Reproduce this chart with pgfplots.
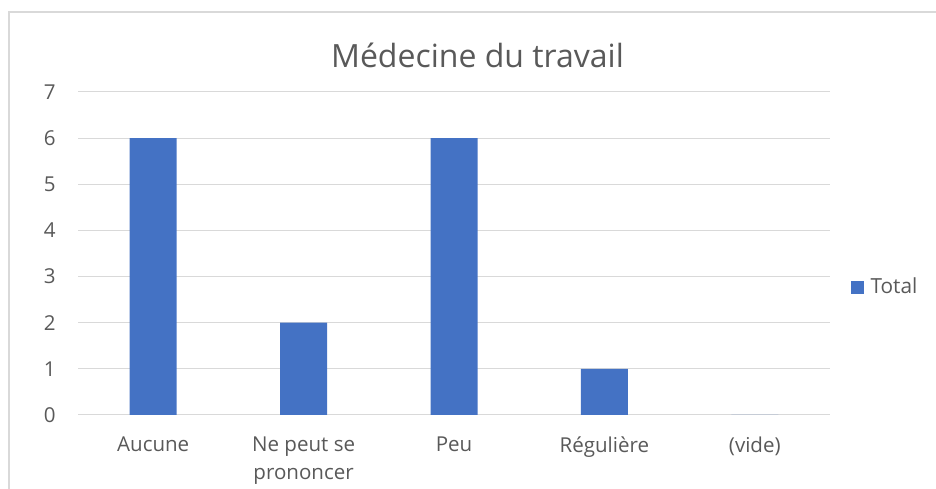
\documentclass[border=0pt]{standalone}
\usepackage{fontspec}
\setmainfont{Open Sans}
\usepackage{pgfplots}
\pgfplotsset{compat=1.18}
\definecolor{barblue}{HTML}{4472C4}
\definecolor{txt}{HTML}{595959}
\definecolor{gridc}{HTML}{D9D9D9}
\begin{document}
\begin{tikzpicture}[x=0.75pt,y=0.75pt]
\useasboundingbox (0,0) rectangle (936,489);
\draw[gridc, line width=1.5pt] (9,0) -- (9,477) -- (936,477);
\node[font=\fontsize{24}{28}\selectfont, text=txt] at (477.5,434) {Médecine du travail};
\begin{axis}[
  at={(58.5pt,55.5pt)}, anchor=south west, scale only axis,
  width=564pt, height=242.25pt,
  xmin=-0.5, xmax=4.5, ymin=0, ymax=7,
  ybar, bar width=35.25pt,
  xtick={0,...,4},
  xticklabels={Aucune, {Ne peut se\\prononcer}, Peu, Régulière, (vide)},
  ytick={0,...,7},
  ymajorgrids, grid style={gridc, line width=0.75pt},
  axis line style={draw=none},
  major tick style={draw=none},
  /pgf/number format/assume math mode=true,
  tick label style={font=\fontsize{15.4}{21}\selectfont, text=txt},
  xticklabel style={inner sep=0pt, anchor=north, yshift=-12pt, align=center},
  yticklabel style={inner sep=0pt, anchor=east, xshift=-16.5pt},
  legend style={at={(1.027,0.396)}, anchor=west, draw=none, fill=none, inner sep=0pt,
    font=\fontsize{15.6}{21}\selectfont, text=txt, legend cell align=left},
  legend image code/.code={\fill[barblue] (0pt,-4.9pt) rectangle (9.75pt,4.9pt); \path (13pt,0pt);},
]
\addplot[fill=barblue, draw=none] coordinates {(0,6) (1,2) (2,6) (3,1) (4,0)};
\addlegendentry{Total}
\end{axis}
\end{tikzpicture}
\end{document}
